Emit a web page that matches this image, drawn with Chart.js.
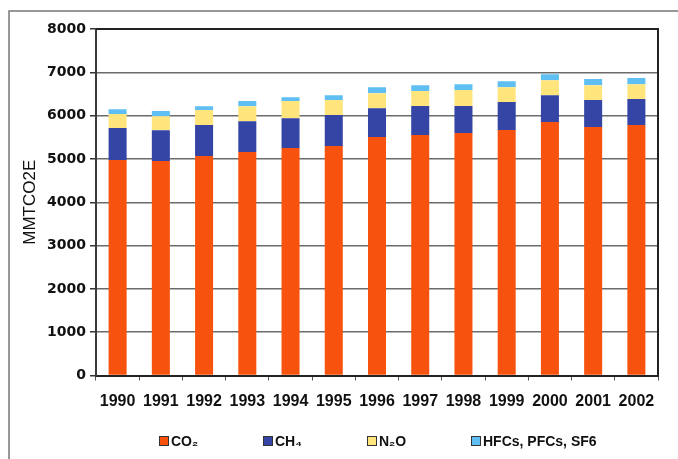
<!DOCTYPE html>
<html>
<head>
<meta charset="utf-8">
<script src="https://cdn.jsdelivr.net/npm/chart.js@4"></script>
<style>
  html, body { margin: 0; padding: 0; background: #fff; }
  #wrap { width: 678px; height: 459px; }
</style>
</head>
<body>
<div id="wrap"><canvas id="chart" width="678" height="459"></canvas></div>
<script>
// Dados
const years = ['1990', '1991', '1992', '1993', '1994', '1995', '1996', '1997', '1998', '1999', '2000', '2001', '2002'];
const co2 = [4975, 4950, 5065, 5160, 5250, 5296, 5504, 5550, 5596, 5666, 5850, 5735, 5781];
const ch4 = [737, 715, 716, 713, 692, 716, 669, 670, 624, 646, 623, 623, 600];
const n2o = [323, 323, 346, 346, 393, 346, 346, 346, 369, 346, 346, 346, 346];
const hfcs = [115, 116, 92, 116, 92, 115, 139, 138, 138, 138, 139, 139, 139];
const seriesNames = ['CO₂', 'CH₄', 'N₂O', 'HFCs, PFCs, SF6'];
const seriesColors = ['#f7530f', '#3445a5', '#ffe57b', '#5fbff3'];
const yTicks = [0, 1000, 2000, 3000, 4000, 5000, 6000, 7000, 8000];

// Moldura externa e fundo
const framePlugin = {
  id: 'frame',
  beforeDraw(chart) {
    const ctx = chart.ctx;
    ctx.save();
    ctx.fillStyle = '#fff';
    ctx.fillRect(0, 0, chart.width, chart.height);
    ctx.strokeStyle = '#777';
    ctx.lineWidth = 1.5;
    ctx.beginPath();
    ctx.moveTo(9, chart.height);
    ctx.lineTo(9, 11);
    ctx.lineTo(chart.width, 11);
    ctx.stroke();
    ctx.restore();
  },
  afterDatasetsDraw(chart) {
    // borda superior e direita da área do gráfico
    const {ctx, chartArea: a} = chart;
    ctx.save();
    ctx.strokeStyle = '#222';
    ctx.lineWidth = 2;
    ctx.beginPath();
    ctx.moveTo(a.left, a.top);
    ctx.lineTo(a.right, a.top);
    ctx.lineTo(a.right, a.bottom);
    ctx.stroke();
    ctx.restore();
  }
};

// Legenda com espaçamento fixo
const legendPlugin = {
  id: 'fixedLegend',
  afterDraw(chart) {
    const ctx = chart.ctx;
    ctx.save();
    ctx.font = 'bold 14px "Liberation Sans", Arial, sans-serif';
    ctx.textBaseline = 'middle';
    chart.data.datasets.forEach((ds, i) => {
      const x = 159 + i * 104;
      const y = 441;
      ctx.fillStyle = ds.backgroundColor;
      ctx.fillRect(x, y - 5, 10, 10);
      ctx.strokeStyle = '#333';
      ctx.lineWidth = 1;
      ctx.strokeRect(x + 0.5, y - 4.5, 9, 9);
      ctx.fillStyle = '#111';
      ctx.fillText(ds.label, x + 12, y + 1);
    });
    ctx.restore();
  }
};

const datasets = [co2, ch4, n2o, hfcs].map((data, i) => ({
  label: seriesNames[i],
  data: data,
  backgroundColor: seriesColors[i],
  borderWidth: 0,
  categoryPercentage: 1,
  barPercentage: 0.417
}));

new Chart(document.getElementById('chart'), {
  type: 'bar',
  data: { labels: years, datasets: datasets },
  options: {
    responsive: false,
    animation: false,
    layout: { padding: { top: 29, right: 20, bottom: 0, left: 0 } },
    plugins: {
      legend: { display: false },
      tooltip: { enabled: false }
    },
    scales: {
      x: {
        stacked: true,
        afterFit(scale) { scale.height = 83.5; },
        grid: { drawOnChartArea: false, drawTicks: true, tickLength: 5, tickColor: '#555', offset: true },
        border: { color: '#222', width: 2 },
        ticks: {
          padding: 11,
          color: '#111',
          font: { family: '"Liberation Sans", Arial, sans-serif', size: 16, weight: 'bold' }
        }
      },
      y: {
        stacked: true,
        min: 0,
        max: 8000,
        afterFit(scale) { scale.width = 96; },
        afterBuildTicks(scale) { scale.ticks = yTicks.map(v => ({ value: v })); },
        grid: {
          color: '#6b6b6b',
          lineWidth: 1.5,
          tickLength: 6,
          tickColor: '#333'
        },
        border: { color: '#3a3a3a', width: 2 },
        title: {
          display: true,
          text: 'MMTCO2E',
          color: '#111',
          padding: { top: 20, bottom: 0 },
          font: { family: '"Liberation Sans", Arial, sans-serif', size: 17, weight: 'normal' }
        },
        ticks: {
          padding: 4,
          color: '#111',
          callback: v => String(v),
          font: { family: '"DejaVu Sans", sans-serif', size: 14, weight: 'bold' }
        }
      }
    }
  },
  plugins: [framePlugin, legendPlugin]
});
</script>
</body>
</html>
